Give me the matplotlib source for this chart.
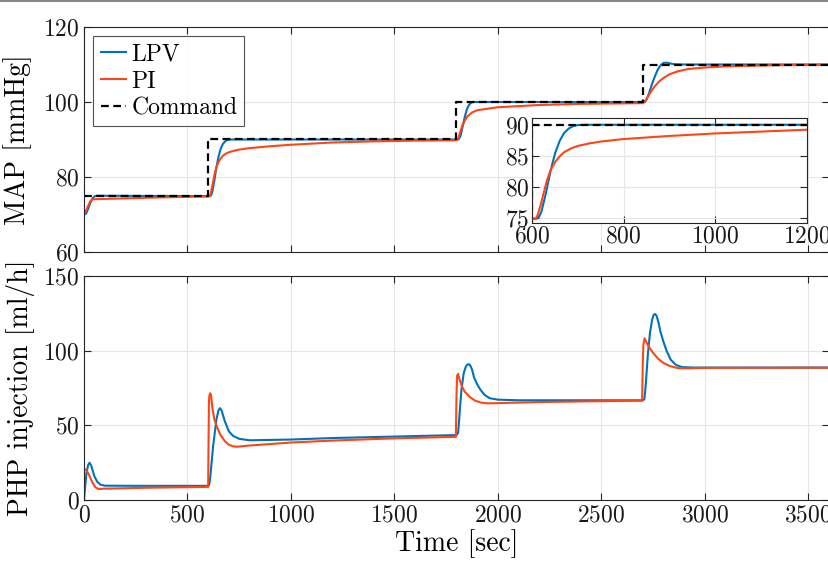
import numpy as np
import matplotlib
matplotlib.use("Agg")
import matplotlib.pyplot as plt
from matplotlib.lines import Line2D

plt.rcParams["font.family"] = "serif"
plt.rcParams["font.serif"] = ["cmr10", "DejaVu Serif"]
plt.rcParams["axes.formatter.use_mathtext"] = True
plt.rcParams["mathtext.fontset"] = "cm"

# command steps (MAP set point)
cmd_t = [0, 600, 600, 1800, 1800, 2700, 2700, 3600]
cmd_v = [75, 75, 90, 90, 100, 100, 110, 110]

# MAP response, LPV controller
map_lpv_t = [0, 10, 20, 30, 40, 50, 60, 600, 610, 615, 620, 625, 630, 635, 640, 645, 650,
             660, 670, 680, 690, 700, 720, 1800, 1810, 1820, 1830, 1840, 1850, 1860, 1870,
             1880, 2700, 2710, 2720, 2730, 2740, 2750, 2760, 2770, 2780, 2790, 2800, 2815,
             2830, 2850, 2900, 3600]
map_lpv_v = [70, 70.2, 71.5, 73, 74.2, 74.8, 75, 74.9, 74.9, 75.2, 76, 77.5, 79, 80.8, 82.5,
             84, 85.4, 87.4, 88.7, 89.4, 89.8, 89.95, 90, 90, 90, 91, 93.5, 96, 98, 99.2,
             99.8, 100, 100, 100, 100.8, 102.3, 104, 105.6, 107, 108.3, 109.3, 110, 110.4,
             110.5, 110.3, 110.1, 110, 110]

# MAP response, PI controller
map_pi_t = [0, 10, 20, 30, 40, 60, 200, 400, 600, 608, 612, 618, 625, 632, 640, 650, 660,
            670, 685, 700, 725, 750, 800, 900, 1000, 1100, 1200, 1400, 1600, 1800, 1808,
            1815, 1830, 1850, 1875, 1900, 2000, 2200, 2400, 2700, 2710, 2720, 2740, 2760,
            2780, 2800, 2830, 2870, 2920, 3000, 3100, 3250, 3400, 3600]
map_pi_v = [70, 71, 72.3, 73.5, 74, 74.1, 74.3, 74.6, 74.8, 74.9, 75.5, 77, 79, 81, 82.7,
            84.0, 84.9, 85.6, 86.2, 86.6, 87.0, 87.3, 87.7, 88.2, 88.6, 88.9, 89.2, 89.5,
            89.7, 89.8, 90.2, 91.5, 94, 96, 97.2, 97.8, 98.6, 99.2, 99.5, 99.7, 100, 101,
            102.8, 104.3, 105.5, 106.4, 107.4, 108.2, 108.8, 109.2, 109.5, 109.7, 109.85,
            109.95]

# PHP injection, LPV controller
php_lpv_t = [0, 5, 12, 20, 27, 35, 50, 65, 80, 100, 300, 600, 605, 610, 624, 640, 650, 657,
             665, 680, 700, 720, 750, 800, 1000, 1200, 1500, 1800, 1808, 1815, 1824, 1835,
             1845, 1852, 1859, 1866, 1875, 1885, 1900, 1915, 1935, 1960, 2000, 2100, 2700,
             2708, 2715, 2725, 2735, 2745, 2752, 2759, 2766, 2775, 2785, 2800, 2815, 2835,
             2860, 2890, 2950, 3600]
php_lpv_v = [0, 8, 18, 23.5, 25, 23, 16, 12, 10.3, 9.6, 9.5, 9.5, 10, 15, 36, 54, 60, 61.5,
             60, 53, 46, 43, 41, 40, 40.5, 41.5, 42.5, 43.5, 45, 58, 74, 85, 89.3, 90.6, 91,
             90.2, 87.5, 82, 77.5, 74, 70.5, 68.2, 67.2, 66.8, 66.8, 67.5, 78, 98, 112, 120.5,
             123.8, 124.6, 123.6, 119.5, 113, 106, 100, 94, 90.5, 89, 88.7, 88.7]

# PHP injection, PI controller
php_pi_t = [0, 10, 20, 40, 55, 70, 100, 300, 600, 602, 604, 606, 610, 614, 620, 630, 645,
            660, 680, 700, 720, 740, 800, 1000, 1200, 1500, 1797, 1800, 1803, 1807, 1812,
            1825, 1840, 1864, 1890, 1920, 1950, 2000, 2200, 2500, 2697, 2700, 2703, 2709,
            2720, 2735, 2750, 2775, 2800, 2830, 2870, 2920, 3000, 3600]
php_pi_v = [20.5, 20.3, 18, 12, 8.5, 7.4, 7.6, 8.2, 8.8, 40, 66, 70, 71.5, 70, 62, 54, 48,
            43.5, 39.5, 37, 36, 35.7, 36.5, 38.5, 39.8, 41.3, 42.3, 70, 83, 84.5, 82, 76.5,
            72.5, 69, 66.5, 65.2, 64.7, 64.9, 65.6, 66.2, 66.5, 90, 104, 108.3, 105, 101.5,
            98.5, 94.5, 91.8, 89.8, 88.3, 88.2, 88.5, 88.6]

BLUE = "#0072BD"
RED = "#FF4516"
FS = 17
LFS = 20


def style_axes(ax, fs=FS):
    ax.grid(True, color="#e6e6e6", linewidth=0.8)
    ax.set_axisbelow(True)
    ax.tick_params(direction="in", top=True, right=True, length=5, width=0.8,
                   colors="#262626", labelsize=fs, pad=3)
    ax.tick_params(labelcolor="#1a1a1a")
    for s in ax.spines.values():
        s.set_color("#262626")
        s.set_linewidth(0.8)


fig = plt.figure(figsize=(8.29, 5.71), dpi=100)

ax1 = fig.add_axes([0.1013, 0.5587, 0.8987, 0.394])
ax1.plot(map_lpv_t, map_lpv_v, color=BLUE, lw=1.5, label="LPV")
ax1.plot(map_pi_t, map_pi_v, color=RED, lw=1.5, label="PI")
ax1.plot(cmd_t, cmd_v, color="black", lw=1.6, ls=(0, (3.5, 2)), label="Command")
ax1.set_xlim(0, 3600)
ax1.set_ylim(60, 120)
ax1.set_xticks(np.arange(0, 3601, 500))
ax1.set_xticklabels([])
ax1.set_yticks([60, 80, 100, 120])
style_axes(ax1)
ax1.set_ylabel("MAP [mmHg]", fontsize=LFS, labelpad=8)
leg = ax1.legend(loc="upper left", fontsize=FS, frameon=True, fancybox=False,
                 edgecolor="#262626", handlelength=1.1, handletextpad=0.2,
                 borderpad=0.3, labelspacing=0.2, borderaxespad=0.4)
leg.get_frame().set_linewidth(0.8)

# inset zoom on the 600 s step
axin = fig.add_axes([0.642, 0.6095, 0.331, 0.184])
axin.plot(map_lpv_t, map_lpv_v, color=BLUE, lw=1.5)
axin.plot(map_pi_t, map_pi_v, color=RED, lw=1.5)
axin.plot(cmd_t, cmd_v, color="black", lw=1.6, ls=(0, (3.5, 2)))
axin.set_xlim(600, 1200)
axin.set_ylim(74.2, 91.1)
axin.set_xticks([600, 800, 1000, 1200])
axin.set_yticks([75, 80, 85, 90])
style_axes(axin)
axin.tick_params(pad=2)

ax2 = fig.add_axes([0.1013, 0.1243, 0.8987, 0.3923])
ax2.plot(php_lpv_t, php_lpv_v, color=BLUE, lw=1.5)
ax2.plot(php_pi_t, php_pi_v, color=RED, lw=1.5)
ax2.set_xlim(0, 3600)
ax2.set_ylim(0, 150)
ax2.set_xticks(np.arange(0, 3601, 500))
ax2.set_yticks([0, 50, 100, 150])
style_axes(ax2)
ax2.set_ylabel("PHP injection [ml/h]", fontsize=LFS, labelpad=6)
ax2.set_xlabel("Time [sec]", fontsize=LFS, labelpad=2)

fig.add_artist(Line2D([0, 1], [0.998, 0.998], color="#888888", lw=1.5))

fig.savefig("out.png", dpi=100)
